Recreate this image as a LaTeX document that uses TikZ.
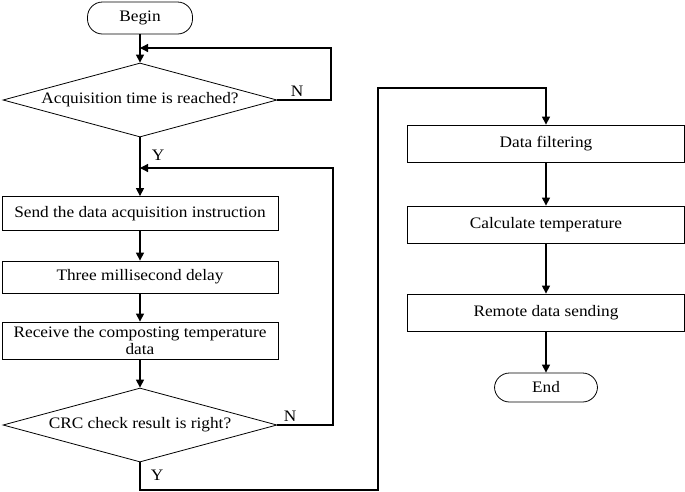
\documentclass[tikz,border=0pt]{standalone}
\usepackage{fontspec}
\setmainfont{Liberation Serif}[FakeStretch=1.08]
\usetikzlibrary{shapes.geometric, arrows.meta}
\tikzset{
    box/.style={draw, rectangle, line width=0.8pt, minimum width=276pt, minimum height=34pt, align=center, inner sep=1pt},
    term/.style={draw, rectangle, rounded corners=15pt, line width=0.8pt, minimum width=105pt, minimum height=32pt},
    dec/.style={draw, diamond, aspect=3.7, line width=0.8pt, minimum width=274pt, minimum height=74pt, inner sep=0pt},
    arr/.style={line width=1.2pt, -{Triangle[length=8pt,width=8pt]}},
    lbl/.style={inner sep=0pt}
}
\begin{document}
\begin{tikzpicture}[x=1pt, y=-1pt, font=\fontsize{16pt}{17pt}\selectfont]
    \useasboundingbox (0,0) rectangle (685,491);
    % left column
    \node[term] (begin) at (140,18) {Begin};
    \node[dec] (acq) at (140,100) {Acquisition time is reached?};
    \node[box] (send) at (140,213.5) {Send the data acquisition instruction};
    \node[box, minimum height=32pt] (delay) at (140,277) {Three millisecond delay};
    \node[box, minimum height=37pt] (recv) at (140,340.5) {Receive the composting temperature\\data};
    \node[dec] (crc) at (140,425) {CRC check result is right?};
    % right column
    \node[box, minimum width=277pt, minimum height=37pt] (filt) at (546,143.5) {Data filtering};
    \node[box, minimum width=277pt, minimum height=37pt] (calc) at (546,224.5) {Calculate temperature};
    \node[box, minimum width=277pt, minimum height=37pt] (remote) at (546,312.5) {Remote data sending};
    \node[term, minimum width=103pt, minimum height=29pt] (end) at (546,387.5) {End};
    % labels
    \node[lbl] (n1) at (297,91) {N};
    \node[lbl] (y1) at (158,155) {Y};
    \node[lbl] (n2) at (290,416) {N};
    \node[lbl] (y2) at (157,475) {Y};
    % corner points
    \coordinate (j1) at (140,48);
    \coordinate (k1) at (331,48);
    \coordinate (j2) at (140,168);
    \coordinate (k2) at (333,168);
    \coordinate (c1) at (378,490);
    \coordinate (c2) at (546,88);
    \draw[arr] (begin) -- (acq);
    \draw[arr] (acq.east) -| (k1) -- (j1);
    \draw[arr] (acq) -- (send);
    \draw[arr] (send) -- (delay);
    \draw[arr] (delay) -- (recv);
    \draw[arr] (recv) -- (crc);
    \draw[arr] (crc.east) -| (k2) -- (j2);
    \draw[arr] (crc.south) |- (c1) |- (c2) -- (filt);
    \draw[arr] (filt) -- (calc);
    \draw[arr] (calc) -- (remote);
    \draw[arr] (remote) -- (end);
\end{tikzpicture}
\end{document}
